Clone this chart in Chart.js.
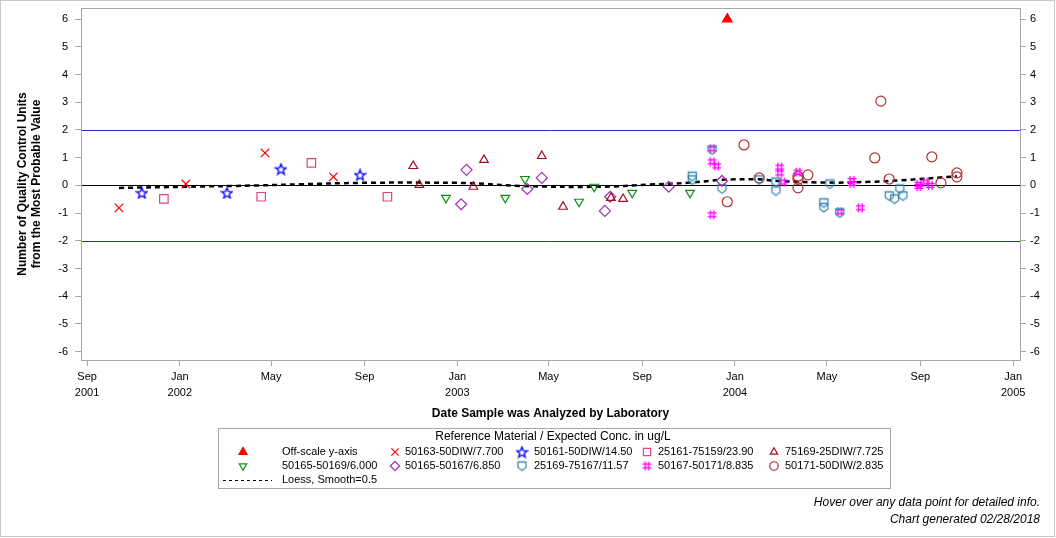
<!DOCTYPE html>
<html>
<head>
<meta charset="utf-8">
<script src="https://cdn.jsdelivr.net/npm/chart.js@4"></script>
<style>
  html, body { margin: 0; padding: 0; background: #fff; }
  #wrap { width: 1056px; height: 538px; position: relative; }
</style>
</head>
<body>
<div id="wrap"><canvas id="chart" width="1056" height="538"></canvas></div>
<script>
// x axis: month ticks
const tickDates = ["2001-09-01", "2002-01-01", "2002-05-01", "2002-09-01", "2003-01-01", "2003-05-01",
  "2003-09-01", "2004-01-01", "2004-05-01", "2004-09-01", "2005-01-01"];
const tickLabels = [["Sep", "2001"], ["Jan", "2002"], ["May"], ["Sep"], ["Jan", "2003"], ["May"],
  ["Sep"], ["Jan", "2004"], ["May"], ["Sep"], ["Jan", "2005"]];
const yTicks = [-6, -5, -4, -3, -2, -1, 0, 1, 2, 3, 4, 5, 6];

// series (date analyzed, units from MPV)
const offDates = ["2003-12-22"];
const offVals = [6];

const s50163Dates = ["2001-10-13", "2002-01-09", "2002-04-23", "2002-07-22"];
const s50163Vals = [-0.81, 0.05, 1.17, 0.31];

const s50161Dates = ["2001-11-12", "2002-03-04", "2002-05-14", "2002-08-26"];
const s50161Vals = [-0.27, -0.27, 0.59, 0.38];

const s25161Dates = ["2001-12-11", "2002-04-18", "2002-06-23", "2002-10-01"];
const s25161Vals = [-0.49, -0.41, 0.81, -0.41];

const s75169Dates = ["2002-11-04", "2002-11-12", "2003-01-22", "2003-02-05", "2003-04-22", "2003-05-20",
  "2003-07-22", "2003-08-07"];
const s75169Vals = [0.70, 0.02, -0.05, 0.92, 1.06, -0.77, -0.45, -0.49];

const s50165aDates = ["2002-12-17", "2003-03-05", "2003-03-31", "2003-06-10", "2003-06-30", "2003-08-19",
  "2003-11-03"];
const s50165aVals = [-0.45, -0.45, 0.23, -0.59, -0.05, -0.27, -0.27];

const s50165bDates = ["2003-01-06", "2003-01-13", "2003-04-03", "2003-04-22", "2003-07-14", "2003-07-21",
  "2003-10-06", "2003-12-15"];
const s50165bVals = [-0.68, 0.56, -0.13, 0.27, -0.92, -0.41, -0.05, 0.16];

const s25169Dates = ["2003-11-06", "2003-11-06", "2003-12-02", "2003-12-15", "2004-02-02", "2004-02-24",
  "2004-02-24", "2004-04-27", "2004-04-27", "2004-05-05", "2004-05-18", "2004-07-22", "2004-07-29",
  "2004-08-05", "2004-08-09"];
const s25169Vals = [0.33, 0.20, 1.28, -0.12, 0.20, 0.12, -0.20, -0.63, -0.80, 0.05, -0.99, -0.38, -0.49,
  -0.13, -0.38];

const s50167Dates = ["2003-12-02", "2003-12-02", "2003-12-02", "2003-12-08", "2004-02-29", "2004-02-29",
  "2004-03-04", "2004-03-24", "2004-05-18", "2004-06-03", "2004-06-03", "2004-06-14", "2004-08-30",
  "2004-08-30", "2004-09-08", "2004-09-14"];
const s50167Vals = [1.32, 0.85, -1.06, 0.70, 0.66, 0.45, 0.12, 0.48, -0.95, 0.18, 0.07, -0.81, 0.04,
  -0.04, 0.12, 0.0];

const s50171Dates = ["2003-12-22", "2004-01-13", "2004-02-02", "2004-03-24", "2004-03-24", "2004-03-24",
  "2004-04-06", "2004-07-03", "2004-07-11", "2004-07-22", "2004-09-16", "2004-09-28", "2004-10-19",
  "2004-10-19"];
const s50171Vals = [-0.59, 1.46, 0.27, 0.33, 0.22, -0.09, 0.38, 0.99, 3.04, 0.23, 1.03, 0.09, 0.45, 0.31];

const loessDates = ["2001-10-13", "2002-01-09", "2002-04-17", "2002-06-09", "2002-08-26", "2002-11-13",
  "2003-01-18", "2003-03-25", "2003-07-08", "2003-09-11", "2003-11-03", "2003-12-15", "2004-01-28",
  "2004-02-29", "2004-05-05", "2004-06-27", "2004-08-05", "2004-10-19"];
const loessVals = [-0.09, -0.05, 0.0, 0.04, 0.09, 0.10, 0.08, -0.02, -0.05, 0.03, 0.10, 0.20, 0.22,
  0.16, 0.10, 0.13, 0.18, 0.33];

const refLines = [2, 0, -2];

const FONT = "'Liberation Sans', Arial, sans-serif";
const t0 = Date.parse("2001-09-01");
const day = s => (Date.parse(s) - t0) / 86400000;
const pts = (dates, vals) => dates.map((d, i) => ({ x: day(d), y: vals[i] }));

// small canvases for marker shapes Chart.js does not have
function icon(color, draw) {
  const c = document.createElement("canvas");
  c.width = 13; c.height = 13;
  const g = c.getContext("2d");
  g.strokeStyle = color;
  g.lineWidth = 1.3;
  g.translate(6.5, 6.5);
  draw(g);
  return c;
}
const starIcon = icon("#0000ff", g => {
  g.beginPath();
  for (let i = 0; i < 10; i++) {
    const r = i % 2 ? 2.4 : 5.6;
    const a = -Math.PI / 2 + i * Math.PI / 5;
    g.lineTo(r * Math.cos(a), r * Math.sin(a) + 0.5);
  }
  g.closePath();
  g.stroke();
});
const shieldIcon = icon("#3a86b0", g => {
  g.beginPath();
  g.moveTo(-4, -4); g.lineTo(4, -4); g.lineTo(4, 1.5); g.lineTo(0, 4.5); g.lineTo(-4, 1.5);
  g.closePath();
  g.stroke();
});
const hashIcon = icon("#ff00ff", g => {
  g.beginPath();
  g.moveTo(-1.8, -4.5); g.lineTo(-1.8, 4.5);
  g.moveTo(1.8, -4.5); g.lineTo(1.8, 4.5);
  g.moveTo(-4.5, -1.8); g.lineTo(4.5, -1.8);
  g.moveTo(-4.5, 1.8); g.lineTo(4.5, 1.8);
  g.stroke();
});

function sc(label, dates, vals, color, style, radius, extra) {
  return Object.assign({
    type: "scatter", label, data: pts(dates, vals),
    pointStyle: style, pointRadius: radius, pointBorderWidth: 1.2,
    borderColor: color, backgroundColor: "rgba(0,0,0,0)", pointBackgroundColor: "rgba(0,0,0,0)"
  }, extra || {});
}

const datasets = [
  sc("Off-scale y-axis", offDates, offVals, "#ff0000", "triangle", 5.5,
    { pointBackgroundColor: "#ff0000", backgroundColor: "#ff0000" }),
  sc("50163-50DIW/7.700", s50163Dates, s50163Vals, "#ff0000", "crossRot", 6),
  sc("50161-50DIW/14.50", s50161Dates, s50161Vals, "#0000ff", starIcon, 5),
  sc("25161-75159/23.90", s25161Dates, s25161Vals, "#e0457f", "rect", 6),
  sc("75169-25DIW/7.725", s75169Dates, s75169Vals, "#a01020", "triangle", 5),
  sc("50165-50169/6.000", s50165aDates, s50165aVals, "#109010", "triangle", 5, { pointRotation: 180 }),
  sc("50165-50167/6.850", s50165bDates, s50165bVals, "#a030b0", "rectRot", 5.5),
  sc("25169-75167/11.57", s25169Dates, s25169Vals, "#3a86b0", shieldIcon, 5),
  sc("50167-50171/8.835", s50167Dates, s50167Vals, "#ff00ff", hashIcon, 5),
  sc("50171-50DIW/2.835", s50171Dates, s50171Vals, "#b03030", "circle", 5),
  {
    type: "line", label: "Loess, Smooth=0.5", data: pts(loessDates, loessVals),
    borderColor: "#000", borderWidth: 2.5, borderDash: [5, 4], pointRadius: 0, tension: 0.4, fill: false
  }
];

// legend grid: [dataset index, symbol x, text x, row y]
const legendItems = [
  [0, 243, 282, 452], [1, 395, 405, 452], [2, 522, 534, 452], [3, 647, 658, 452], [4, 774, 785, 452],
  [5, 243, 282, 466], [6, 395, 405, 466], [7, 522, 534, 466], [8, 647, 658, 466], [9, 774, 785, 466],
  [10, 243, 282, 480]
];

const decor = {
  id: "decor",
  beforeDatasetsDraw(chart) {
    const { ctx, chartArea: a, scales } = chart;
    ctx.save();
    refLines.forEach(v => {
      const y = Math.round(scales.y.getPixelForValue(v)) + 0.5;
      ctx.strokeStyle = v === 0 ? "#000000" : "#2a2ad0";
      ctx.lineWidth = 1;
      ctx.beginPath(); ctx.moveTo(a.left, y); ctx.lineTo(a.right, y); ctx.stroke();
    });
    ctx.restore();
  },
  afterDraw(chart) {
    const { ctx, chartArea: a } = chart;
    ctx.save();
    ctx.strokeStyle = "#a8a8a8";
    ctx.lineWidth = 1;
    ctx.strokeRect(Math.round(a.left) + 0.5, Math.round(a.top) + 0.5,
      Math.round(a.right - a.left), Math.round(a.bottom - a.top));
    ctx.strokeStyle = "#c8c8c8";
    ctx.strokeRect(0.5, 0.5, 1054, 536);
    // legend
    ctx.strokeStyle = "#a8a8a8";
    ctx.strokeRect(218.5, 428.5, 672, 60);
    ctx.fillStyle = "#000";
    ctx.font = "12px " + FONT;
    ctx.textAlign = "center";
    ctx.textBaseline = "middle";
    ctx.fillText("Reference Material / Expected Conc. in ug/L", 553, 437);
    ctx.font = "11px " + FONT;
    ctx.textAlign = "left";
    legendItems.forEach(([i, sx, tx, y]) => {
      const ds = chart.data.datasets[i];
      if (ds.type === "line") {
        ctx.strokeStyle = "#000"; ctx.lineWidth = 1; ctx.setLineDash([3, 3]);
        ctx.beginPath(); ctx.moveTo(223, y + 0.5); ctx.lineTo(272, y + 0.5); ctx.stroke();
        ctx.setLineDash([]);
      } else {
        ctx.strokeStyle = ds.borderColor;
        ctx.fillStyle = ds.pointBackgroundColor;
        ctx.lineWidth = 1.2;
        Chart.helpers.drawPoint(ctx, {
          pointStyle: ds.pointStyle, rotation: ds.pointRotation || 0,
          radius: ds.pointRadius * 0.85, borderWidth: 1.2
        }, sx, y);
      }
      ctx.fillStyle = "#000";
      ctx.fillText(ds.label, tx, y);
    });
    // footer
    ctx.font = "italic 12px " + FONT;
    ctx.textAlign = "right";
    ctx.fillText("Hover over any data point for detailed info.", 1040, 503);
    ctx.fillText("Chart generated 02/28/2018", 1040, 520);
    ctx.restore();
  }
};

const tickFont = { family: FONT, size: 11 };
const xTickFont = { family: FONT, size: 11, lineHeight: 1.45 };
const titleFont = { family: FONT, size: 12, weight: "bold" };
const noPad = s => { s.paddingTop = 0; s.paddingBottom = 0; };

new Chart(document.getElementById("chart"), {
  type: "scatter",
  data: { datasets },
  options: {
    responsive: false,
    animation: false,
    events: [],
    layout: { padding: { top: 8, bottom: 117, left: 15, right: 0 } },
    plugins: { legend: { display: false }, tooltip: { enabled: false } },
    scales: {
      x: {
        type: "linear", min: -8, max: 1227,
        afterBuildTicks: s => { s.ticks = tickDates.map(d => ({ value: day(d) })); },
        afterFit: s => { s.height = 61; },
        ticks: {
          autoSkip: false, maxRotation: 0, color: "#000", font: xTickFont, padding: 3,
          callback: (v, i) => tickLabels[i]
        },
        grid: { display: true, drawOnChartArea: false, drawTicks: true, tickLength: 6, color: "#a8a8a8" },
        border: { display: false },
        title: { display: true, text: "Date Sample was Analyzed by Laboratory", font: titleFont, color: "#000",
          padding: { top: 4, bottom: 0 } }
      },
      y: {
        min: -6.3, max: 6.4,
        afterBuildTicks: s => { s.ticks = yTicks.map(v => ({ value: v })); },
        afterFit: s => { s.width = 66; noPad(s); },
        ticks: { color: "#000", font: tickFont, padding: 7 },
        grid: { display: true, drawOnChartArea: false, drawTicks: true, tickLength: 6, color: "#a8a8a8" },
        border: { display: false },
        title: { display: true, text: ["Number of Quality Control Units", "from the Most Probable Value"],
          font: titleFont, color: "#000", padding: { top: 0, bottom: 4 } }
      },
      y2: {
        position: "right", min: -6.3, max: 6.4,
        afterBuildTicks: s => { s.ticks = yTicks.map(v => ({ value: v })); },
        afterFit: s => { s.width = 36; noPad(s); },
        ticks: { color: "#000", font: tickFont, padding: 4 },
        grid: { display: true, drawOnChartArea: false, drawTicks: true, tickLength: 6, color: "#a8a8a8" },
        border: { display: false }
      }
    }
  },
  plugins: [decor]
});
</script>
</body>
</html>
